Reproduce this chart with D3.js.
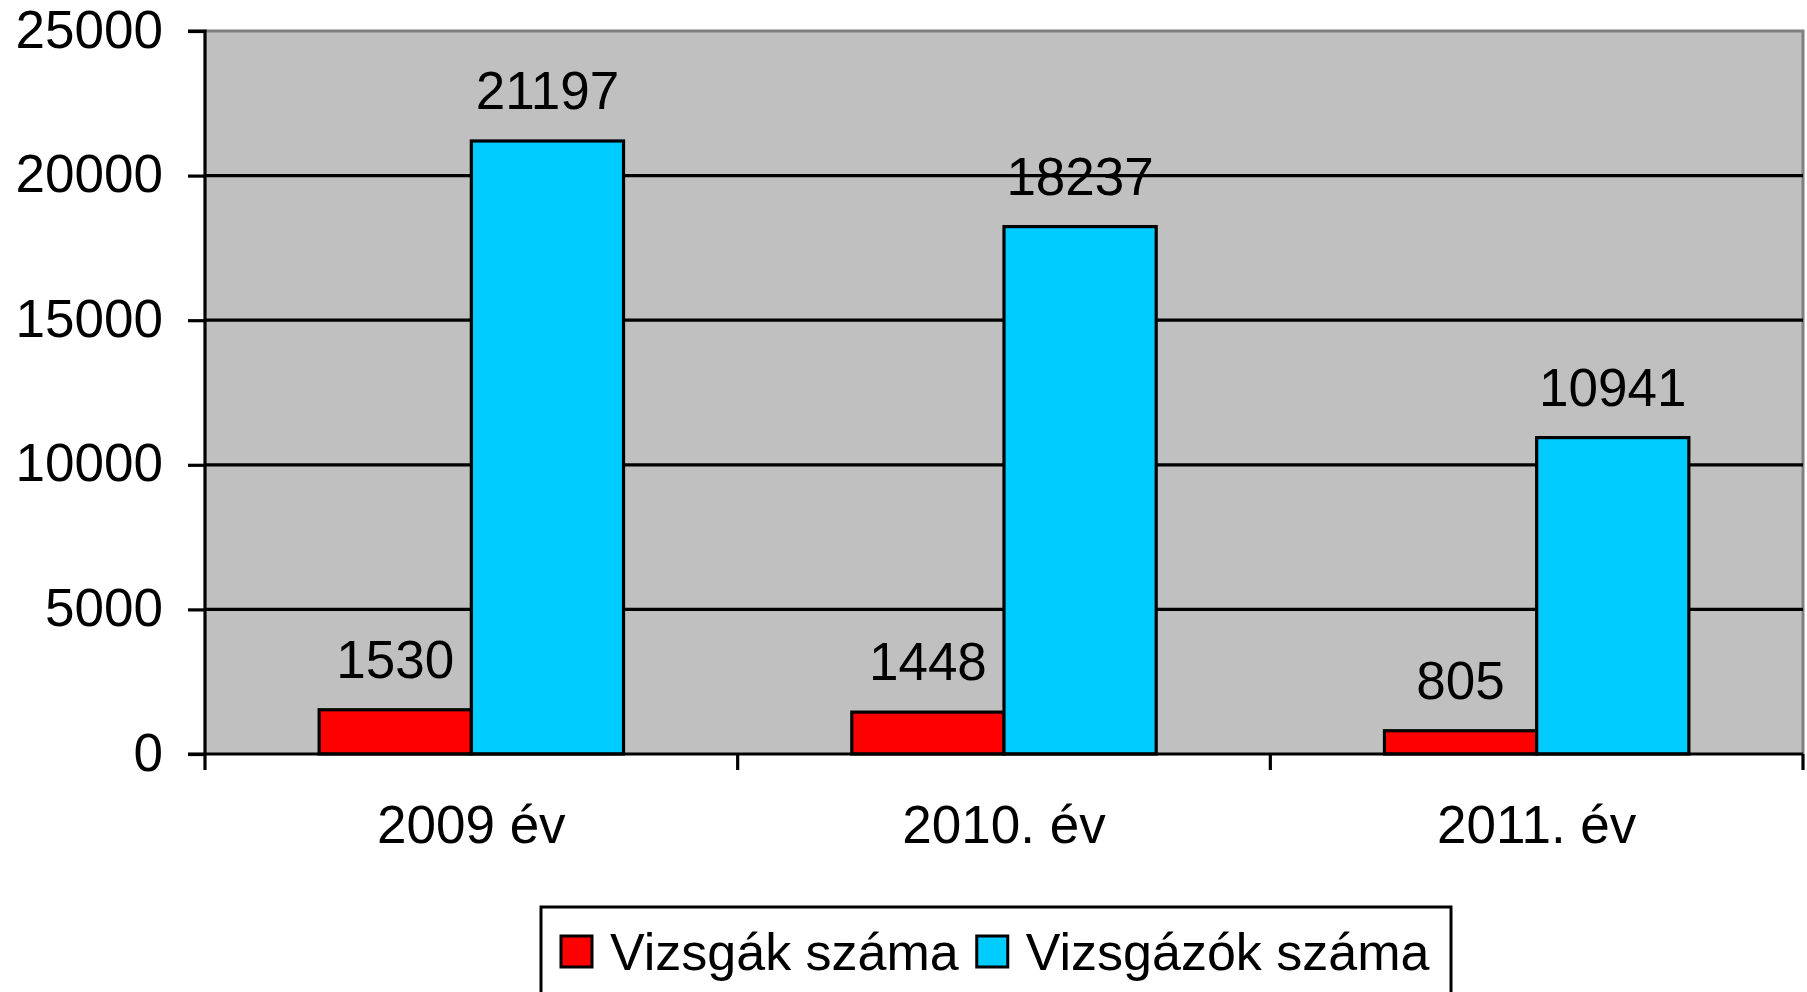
<!DOCTYPE html>
<html>
<head>
<meta charset="utf-8">
<script src="https://cdn.jsdelivr.net/npm/d3@7"></script>
<style>
  html, body { margin: 0; padding: 0; background: #fff; }
  svg text { font-family: "Liberation Sans", Arial, sans-serif; fill: #000; }
</style>
</head>
<body>
<svg id="chart" width="1807" height="992"></svg>
<script>
const categories = ["2009 év", "2010. év", "2011. év"];
const seriesNames = ["Vizsgák száma", "Vizsgázók száma"];
const vizsgak = [1530, 1448, 805];
const vizsgazok = [21197, 18237, 10941];
const yTicks = [0, 5000, 10000, 15000, 20000, 25000];
const colors = ["#FF0000", "#00CCFF"];

(function () {
const series = [vizsgak, vizsgazok];
const svg = d3.select("#chart");
const pL = 205, pR = 1803, pT = 31, pB = 754;
const fs = 53;

const x = d3.scaleBand().domain(categories).range([pL, pR]).paddingInner(0).paddingOuter(0);
const barW = x.bandwidth() / 3.5;
const gapHalf = barW * 0.75;
const y = d3.scaleLinear().domain([0, 25000]).range([pB, pT]);

svg.append("rect").attr("x", pL).attr("y", pT).attr("width", pR - pL).attr("height", pB - pT)
  .attr("fill", "#C0C0C0");
svg.append("path").attr("d", `M${pL},${pT}H${pR}V${pB}`).attr("fill", "none")
  .attr("stroke", "#808080").attr("stroke-width", 3);

svg.append("g").selectAll("line").data(yTicks.filter(d => d > 0 && d < 25000)).join("line")
  .attr("x1", pL).attr("x2", pR).attr("y1", d => y(d)).attr("y2", d => y(d))
  .attr("stroke", "#000").attr("stroke-width", 3.2);

series.forEach((vals, si) => {
  svg.append("g").selectAll("rect").data(vals).join("rect")
    .attr("x", (d, i) => x(categories[i]) + gapHalf + si * barW)
    .attr("y", d => y(d))
    .attr("width", barW)
    .attr("height", d => pB - y(d))
    .attr("fill", colors[si]).attr("stroke", "#000").attr("stroke-width", 3.2);
  svg.append("g").selectAll("text").data(vals).join("text")
    .attr("x", (d, i) => x(categories[i]) + gapHalf + si * barW + barW / 2)
    .attr("y", d => y(d) - 32)
    .attr("text-anchor", "middle").attr("font-size", fs)
    .text(d => d);
});

const yAxis = d3.axisLeft(y).tickValues(yTicks).tickSize(17).tickPadding(25).tickFormat(d3.format("d"));
const gy = svg.append("g").attr("transform", `translate(${pL},0)`).call(yAxis);
gy.select(".domain").attr("stroke", "#000").attr("stroke-width", 3.2).attr("d", `M-17,${pT}H0V${pB}`);
gy.selectAll(".tick line").attr("stroke", "#000").attr("stroke-width", 3.2);
gy.selectAll(".tick text").attr("font-size", fs).attr("font-family", '"Liberation Sans", Arial, sans-serif')
  .attr("fill", "#000").attr("dy", null).attr("y", 16);

const xTickPos = categories.map(c => x(c)).concat([pR]);
svg.append("line").attr("x1", pL - 17).attr("x2", pR).attr("y1", pB).attr("y2", pB)
  .attr("stroke", "#000").attr("stroke-width", 3.2);
svg.append("g").selectAll("line").data(xTickPos).join("line")
  .attr("x1", d => d).attr("x2", d => d).attr("y1", pB).attr("y2", pB + 16)
  .attr("stroke", "#000").attr("stroke-width", 3.2);
svg.append("g").selectAll("text").data(categories).join("text")
  .attr("x", d => x(d) + x.bandwidth() / 2).attr("y", pB + 89)
  .attr("text-anchor", "middle").attr("font-size", fs).text(d => d);

const lg = svg.append("g");
lg.append("rect").attr("x", 541).attr("y", 907).attr("width", 910).attr("height", 120)
  .attr("fill", "#fff").attr("stroke", "#000").attr("stroke-width", 3);
let lx = 561;
seriesNames.forEach((name, i) => {
  lg.append("rect").attr("x", lx).attr("y", 936).attr("width", 31).attr("height", 31)
    .attr("fill", colors[i]).attr("stroke", "#000").attr("stroke-width", 3);
  const t = lg.append("text").attr("x", lx + 49).attr("y", 970).attr("font-size", 52).text(name);
  lx = lx + 49 + t.node().getComputedTextLength() + 18;
});
})();
</script>
</body>
</html>
